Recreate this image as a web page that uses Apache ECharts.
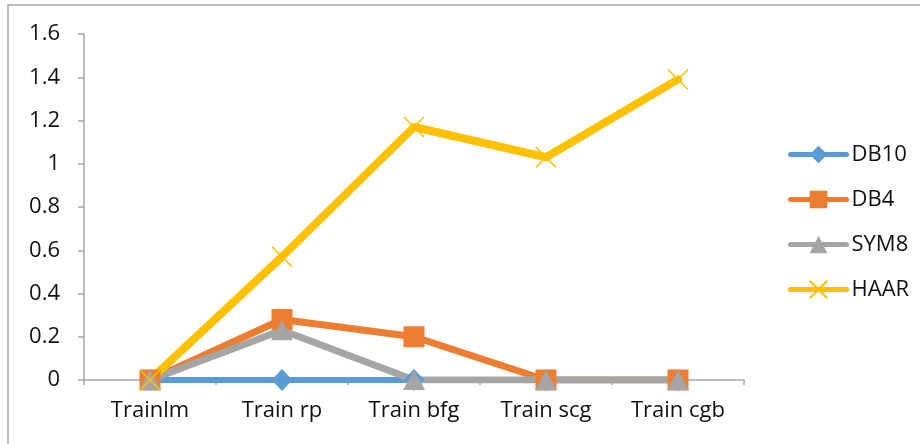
<!DOCTYPE html>
<html>
<head>
<meta charset="utf-8">
<script src="https://cdn.jsdelivr.net/npm/echarts@6/dist/echarts.min.js"></script>
<style>
  html, body { margin: 0; padding: 0; background: #fff; }
  #chart { width: 920px; height: 444px; }
</style>
</head>
<body>
<div id="chart"></div>
<script>
// Training functions on the category axis
const categories = ['Trainlm', 'Train rp', 'Train bfg', 'Train scg', 'Train cgb'];

// Values per wavelet
const db10 = [0, 0, 0, 0, 0];
const db4  = [0, 0.28, 0.2, 0, 0];
const sym8 = [0, 0.23, 0, 0, 0];
const haar = [0, 0.57, 1.17, 1.03, 1.39];

const seriesNames = ['DB10', 'DB4', 'SYM8', 'HAAR'];
const yTicks = { min: 0, max: 1.6, interval: 0.2 };

const FONT = '"Open Sans", Lato, sans-serif';
const TEXT = '#111';
const AXIS = '#a6a6a6';

const crossPath = 'path://M0,0L20,20M20,0L0,20';

function lineSeries(name, data, color, symbol, size, width, extra) {
  return Object.assign({
    name: name,
    type: 'line',
    data: data,
    symbol: symbol,
    symbolSize: size,
    showAllSymbol: true,
    lineStyle: { color: color, width: width, cap: 'round', join: 'round' },
    itemStyle: { color: color },
    emphasis: { disabled: true },
    animation: false
  }, extra || {});
}

const chart = echarts.init(document.getElementById('chart'), null, { renderer: 'canvas' });

chart.setOption({
  backgroundColor: '#fff',
  animation: false,
  graphic: [{
    type: 'rect',
    shape: { x: 8, y: 5, width: 1200, height: 1200 },
    style: { fill: 'none', stroke: '#a8a8a8', lineWidth: 1.5 },
    silent: true,
    z: -10
  }],
  grid: { left: 84, right: 176, top: 34, bottom: 64, containLabel: false },
  legend: {
    orient: 'vertical',
    left: 783,
    top: 138,
    itemWidth: 56,
    itemHeight: 22,
    itemGap: 22,
    lineStyle: { width: 5, cap: 'round' },
    textStyle: { fontFamily: FONT, fontSize: 22, lineHeight: 23, color: TEXT, padding: [0, 0, 0, 0] },
    data: seriesNames
  },
  xAxis: {
    type: 'category',
    data: categories,
    boundaryGap: true,
    axisLine: { lineStyle: { color: AXIS, width: 1.5 } },
    axisTick: { show: true, length: 5, lineStyle: { color: AXIS, width: 1.5 } },
    axisLabel: { fontFamily: FONT, fontSize: 22, color: TEXT, margin: 20 },
    splitLine: { show: false }
  },
  yAxis: {
    type: 'value',
    min: yTicks.min,
    max: yTicks.max,
    interval: yTicks.interval,
    axisLine: { show: true, lineStyle: { color: AXIS, width: 1.5 } },
    axisTick: { show: true, length: 6, lineStyle: { color: AXIS, width: 1.5 } },
    axisLabel: { fontFamily: FONT, fontSize: 22, color: TEXT, margin: 24 },
    splitLine: { show: false }
  },
  series: [
    lineSeries(seriesNames[0], db10, '#5B9BD5', 'diamond', [21, 22], 6),
    lineSeries(seriesNames[1], db4, '#ED7D31', 'rect', 21, 7),
    lineSeries(seriesNames[2], sym8, '#A5A5A5', 'triangle', [22, 20], 7),
    lineSeries(seriesNames[3], haar, '#FFC000', crossPath, 20, 8, {
      itemStyle: { color: 'none', borderColor: '#FFC000', borderWidth: 1.5 }
    })
  ]
});
</script>
</body>
</html>
